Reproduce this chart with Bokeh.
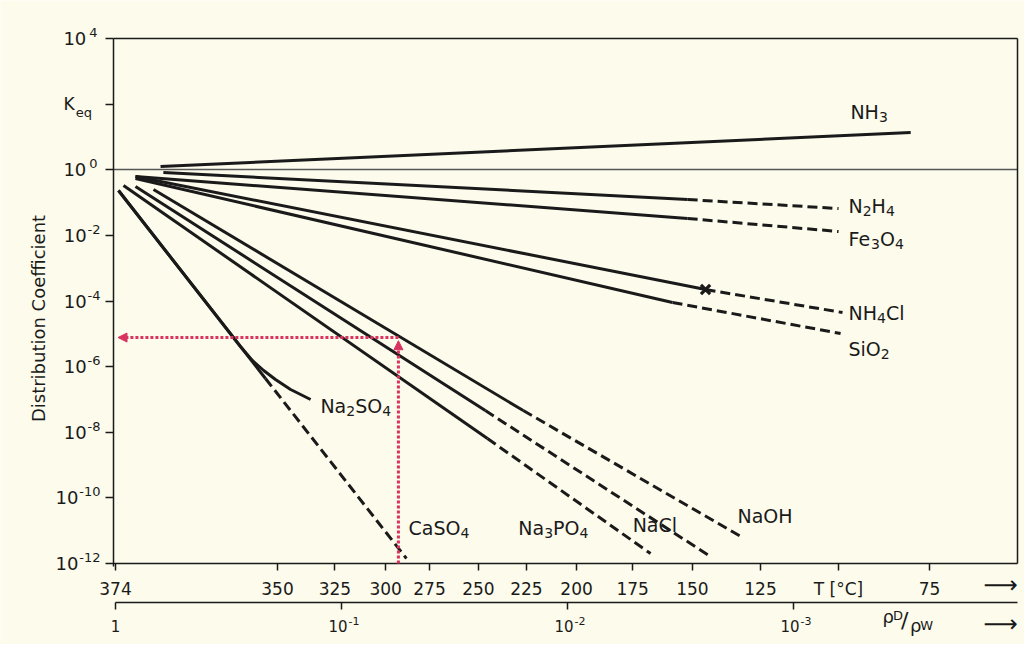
from bokeh.plotting import figure
from bokeh.models import Range1d, LogAxis, FixedTicker, Label, Arrow, NormalHead
from bokeh.embed import file_html
from bokeh.resources import INLINE

# ---------------- data ----------------
# x: density ratio rho_D / rho_W, y: distribution coefficient K
nh3_rho = [0.632, 3.03e-4]
nh3_k = [1.26, 13.6]

n2h4_rho = [0.614, 2.94e-3]
n2h4_k = [0.824, 0.124]
n2h4_ext_rho = [2.94e-3, 6.32e-4]
n2h4_ext_k = [0.124, 0.0659]

fe3o4_rho = [0.816, 2.94e-3]
fe3o4_k = [0.622, 0.0327]
fe3o4_ext_rho = [2.94e-3, 6.32e-4]
fe3o4_ext_k = [0.0327, 0.0131]

nh4cl_rho = [0.816, 2.45e-3]
nh4cl_k = [0.622, 2.24e-4]
nh4cl_ext_rho = [2.45e-3, 6.07e-4]
nh4cl_ext_k = [2.24e-4, 4.46e-5]

sio2_rho = [0.816, 3.43e-3]
sio2_k = [0.541, 9.0e-5]
sio2_ext_rho = [3.43e-3, 6.19e-4]
sio2_ext_k = [9.0e-5, 1.02e-5]

caso4_rho = [0.970, 0.217]
caso4_k = [0.233, 4.35e-7]
caso4_ext_rho = [0.217, 0.0516]
caso4_ext_k = [4.35e-7, 1.42e-12]

na2so4_rho = [0.970, 0.280, 0.248, 0.221, 0.196, 0.168, 0.137]
na2so4_k = [0.233, 4.10e-6, 1.54e-6, 7.62e-7, 4.06e-7, 2.01e-7, 9.95e-8]

na3po4_rho = [0.922, 0.0226]
na3po4_k = [0.331, 6.44e-9]
na3po4_ext_rho = [0.0226, 4.29e-3]
na3po4_ext_k = [6.44e-9, 2.01e-12]

nacl_rho = [0.816, 0.0231]
nacl_k = [0.308, 4.59e-8]
nacl_ext_rho = [0.0231, 2.33e-3]
nacl_ext_k = [4.59e-8, 1.63e-12]

naoh_rho = [0.679, 0.0157]
naoh_k = [0.250, 4.59e-8]
naoh_ext_rho = [0.0157, 1.68e-3]
naoh_ext_k = [4.59e-8, 6.18e-12]

# marker on the NH4Cl curve
mark_rho = [2.45e-3]
mark_k = [2.24e-4]

# example reading (NaOH at 300 degC)
read_rho = 0.056
read_k = 7.7e-6

# axis ticks
temp_labels = ["374", "350", "325", "300", "275", "250", "225", "200",
               "175", "150", "125", "T [°C]", "75"]
temp_rho = [1.0, 0.192, 0.107, 0.0638, 0.0408, 0.0248, 0.0152, 0.00912,
            0.00515, 0.0028, 0.0014, 0.000632, 0.00025]
dens_ticks = [1.0, 0.1, 0.01, 0.001]
dens_exponents = ["", "-1", "-2", "-3"]          # "1", "10^-1", ...
k_ticks = [1e4, 1e2, 1.0, 1e-2, 1e-4, 1e-6, 1e-8, 1e-10, 1e-12]
k_exponents = ["4", None, "0", "-2", "-4", "-6", "-8", "-10", "-12"]  # None -> K_eq

# curve names and their anchor points (rho, K)
curve_names = ["NH3", "N2H4", "Fe3O4", "NH4Cl", "SiO2", "Na2SO4",
               "CaSO4", "Na3PO4", "NaCl", "NaOH"]
name_rho = [5.6e-4, 5.71e-4, 5.71e-4, 5.71e-4, 5.71e-4, 0.124,
            0.0505, 0.0165, 5.15e-3, 1.77e-3]
name_k = [55.6, 0.0813, 8.0e-3, 4.46e-5, 3.56e-6, 6.5e-8,
          1.25e-11, 1.25e-11, 1.44e-11, 2.9e-11]

# ---------------- layout constants ----------------
X_LO, X_HI = 1.02, 1.02e-4          # plotted box in rho
Y_LO, Y_HI = 1e-12, 1e4             # plotted box in K
Y_DENS_AXIS = 6.47e-14              # level of the second (density) scale

BG = "#fcfbec"
INK = "#1a1a1a"
PINK = "#d9335f"
FONT = "DejaVu Sans"

# DejaVu Sans advance widths (em) for manual sub/superscript layout
ADV = {"N": .748, "H": .752, "a": .613, "S": .635, "O": .787, "C": .698,
       "F": .575, "e": .615, "i": .278, "l": .278, "P": .603, "K": .656,
       "q": .635, "D": .770, "W": .989, "-": .361, " ": .318, "ρ": .636}


def width(s, size):
    return sum(ADV.get(c, .636) for c in s) * size


p = figure(width=1024, height=644, x_axis_type="log", y_axis_type="log",
           x_range=Range1d(3.2277, 9.503e-5), y_range=Range1d(3.40e-15, 1.4393e5),
           output_backend="svg", toolbar_location=None, min_border=0)
p.background_fill_color = BG
p.border_fill_color = BG
p.outline_line_color = None
p.xgrid.visible = False
p.ygrid.visible = False


def style_axis(ax, size="17px", standoff=6, tick_out=7, lw=1.5, color=INK):
    ax.major_label_text_font = FONT
    ax.major_label_text_font_size = size
    ax.major_label_text_color = INK
    ax.major_label_standoff = standoff
    ax.major_tick_out = tick_out
    ax.major_tick_in = 0
    ax.minor_tick_line_color = None
    ax.axis_line_width = lw
    ax.axis_line_color = color
    ax.major_tick_line_color = color
    ax.major_tick_line_width = 1.5


# y axis (distribution coefficient); labels are set as text below
ya = p.left[0]
ya.fixed_location = X_LO
ya.bounds = (7.9e-13, Y_HI)
ya.ticker = FixedTicker(ticks=k_ticks)
ya.major_label_overrides = {t: "" for t in k_ticks}
style_axis(ya, size="18px", standoff=4, tick_out=8)

# temperature scale along the bottom of the box
ta = p.below[0]
ta.fixed_location = Y_LO
ta.bounds = (X_HI, X_LO)
ta.ticker = FixedTicker(ticks=temp_rho)
ta.major_label_overrides = {t: l for t, l in zip(temp_rho, temp_labels)}
style_axis(ta, size="17px", standoff=8, tick_out=7)

# density ratio scale
da = LogAxis(fixed_location=Y_DENS_AXIS, bounds=(X_HI, 1.0),
             ticker=FixedTicker(ticks=dens_ticks),
             major_label_overrides={t: "" for t in dens_ticks})
style_axis(da, size="15px", standoff=7, tick_out=7)
p.add_layout(da, "below")

# top and right edges of the box, and the K = 1 line
for loc in (Y_HI, 1.0):
    ax = LogAxis(fixed_location=loc, bounds=(X_HI, X_LO), ticker=FixedTicker(ticks=[]),
                 minor_tick_line_color=None, major_tick_line_color=None,
                 major_label_text_font_size="0px")
    ax.axis_line_color = INK if loc == Y_HI else "#555555"
    ax.axis_line_width = 1.5 if loc == Y_HI else 1.3
    p.add_layout(ax, "above")
rax = LogAxis(fixed_location=X_HI, bounds=(Y_LO, Y_HI), ticker=FixedTicker(ticks=[]),
              minor_tick_line_color=None, major_tick_line_color=None,
              major_label_text_font_size="0px", axis_line_color=INK, axis_line_width=1.5)
p.add_layout(rax, "right")

# curves
LW = 3
DASH = "10 5"
solid = [(nh3_rho, nh3_k), (n2h4_rho, n2h4_k), (fe3o4_rho, fe3o4_k),
         (nh4cl_rho, nh4cl_k), (sio2_rho, sio2_k), (caso4_rho, caso4_k),
         (na2so4_rho, na2so4_k), (na3po4_rho, na3po4_k), (nacl_rho, nacl_k),
         (naoh_rho, naoh_k)]
dashed = [(n2h4_ext_rho, n2h4_ext_k), (fe3o4_ext_rho, fe3o4_ext_k),
          (nh4cl_ext_rho, nh4cl_ext_k), (sio2_ext_rho, sio2_ext_k),
          (caso4_ext_rho, caso4_ext_k), (na3po4_ext_rho, na3po4_ext_k),
          (nacl_ext_rho, nacl_ext_k), (naoh_ext_rho, naoh_ext_k)]
for xs, ys in solid:
    p.line(xs, ys, line_color=INK, line_width=LW, line_join="round")
for xs, ys in dashed:
    p.line(xs, ys, line_color=INK, line_width=LW, line_dash=DASH)

p.scatter(mark_rho, mark_k, marker="x", size=13, line_width=3.2, line_color=INK)

# example reading arrows
p.add_layout(Arrow(x_start=read_rho, y_start=read_k, x_end=0.975, y_end=read_k,
                   line_color=PINK, line_width=3, line_dash="3 2",
                   end=NormalHead(size=9, fill_color=PINK, line_color=PINK)))
p.add_layout(Arrow(x_start=read_rho, y_start=Y_LO, x_end=read_rho, y_end=read_k * 0.8,
                   line_color=PINK, line_width=3, line_dash="3 2",
                   end=NormalHead(size=9, fill_color=PINK, line_color=PINK)))


def label(x, y, text, size, dx=0, dy=0, align="left", font=FONT, angle=0):
    p.add_layout(Label(x=x, y=y, x_offset=dx, y_offset=dy, text=text, text_font=font,
                       text_font_size=f"{size}px", text_color=INK,
                       text_baseline="middle", text_align=align, angle=angle))


def formula(x, y, text, size=19, sub=14, sub_dy=-5):
    runs = []
    for ch in text:
        is_sub = ch.isdigit()
        if runs and runs[-1][1] == is_sub:
            runs[-1][0] += ch
        else:
            runs.append([ch, is_sub])
    off = 0.0
    for s, is_sub in runs:
        fs = sub if is_sub else size
        label(x, y, s, fs, dx=off, dy=sub_dy if is_sub else 0)
        off += width(s, fs)


for name, xr, yk in zip(curve_names, name_rho, name_k):
    formula(xr, yk, name)

# y tick labels: 10 with raised exponent, K_eq at 10^2
for t, e in zip(k_ticks, k_exponents):
    if e is None:
        label(X_LO, t, "K", 17, dx=-50)
        label(X_LO, t, "eq", 13, dx=-50 + width("K", 17) + 1, dy=-8)
        continue
    right = -16 if e.isdigit() else -13
    label(X_LO, t, e, 13, dx=right, dy=6, align="right")
    label(X_LO, t, "10", 18, dx=right - width(e, 13) - (3 if e.isdigit() else 1),
          align="right")

# density-ratio tick labels
for t, e in zip(dens_ticks, dens_exponents):
    if not e:
        label(t, Y_DENS_AXIS, "1", 15, dy=-23, align="center")
        continue
    label(t, Y_DENS_AXIS, "10", 15, dx=6, dy=-23, align="right")
    label(t, Y_DENS_AXIS, e, 11, dx=7, dy=-18)

# axis title
label(2.192, 2.93e-5, "Distribution Coefficient", 18, align="center", angle=1.5708)

# arrows after the scales and the density-ratio symbol
label(1.21e-4, 2.14e-13, "⟶", 24, align="center")
label(1.21e-4, 1.48e-14, "⟶", 24, align="center")
RX, RY = 4.04e-4, 2.43e-14
label(RX, RY, "ρ", 18)
label(RX, RY, "D", 13, dx=width("ρ", 18) - 1, dy=1)
label(RX, RY, "/", 22, dx=width("ρ", 18) + width("D", 13) - 3, dy=-4)
label(RX, RY, "ρ", 18, dx=width("ρ", 18) + width("D", 13) + 6, dy=-9)
label(RX, RY, "W", 13, dx=2 * width("ρ", 18) + width("D", 13) + 5, dy=-9)

open("out.html", "w").write(file_html(p, INLINE))
